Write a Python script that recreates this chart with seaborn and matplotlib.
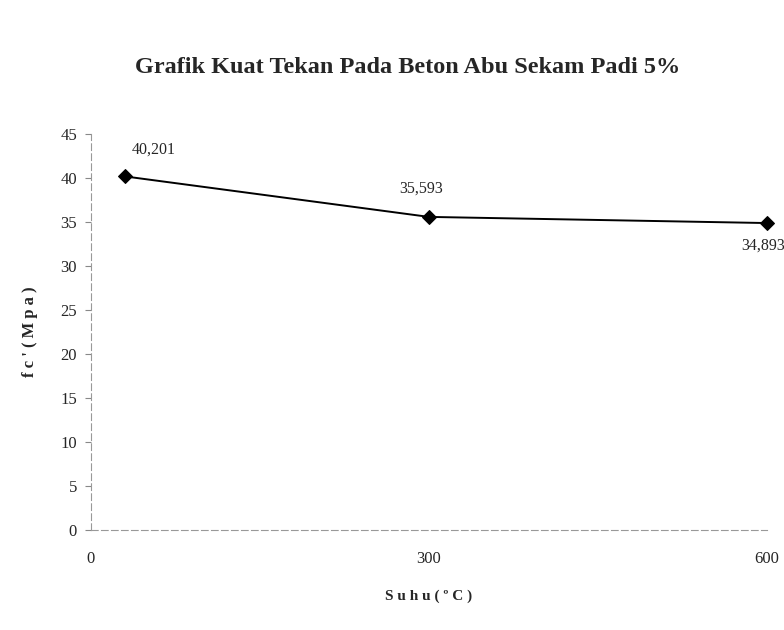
import pandas as pd
import matplotlib
matplotlib.use('Agg')
import matplotlib.pyplot as plt
import seaborn as sns

# Data kuat tekan beton abu sekam padi 5%
suhu = [30, 300, 600]
kuat_tekan = [40.201, 35.593, 34.893]
label_nilai = ['40,201', '35,593', '34,893']
y_ticks = [0, 5, 10, 15, 20, 25, 30, 35, 40, 45]
x_ticks = [0, 300, 600]

data = pd.DataFrame({'Suhu': suhu, 'fc': kuat_tekan})

sns.set_style('white')
plt.rcParams['font.family'] = ['Liberation Serif', 'DejaVu Serif']

fig = plt.figure(figsize=(7.84, 6.3), dpi=100)
ax = fig.add_axes([0.116, 0.159, 0.862, 0.628])

sns.lineplot(x='Suhu', y='fc', data=data, ax=ax, color='black', linewidth=1.4,
             marker='D', markersize=7, markeredgecolor='black', markerfacecolor='black',
             clip_on=False)

# Label nilai pada tiap titik
offsets = [(29, 27), (-8, 28), (-4, -23)]
for xv, yv, txt, (dx, dy) in zip(suhu, kuat_tekan, label_nilai, offsets):
    ax.annotate(txt, (xv, yv), xytext=(dx, dy), textcoords='offset pixels',
                ha='center', va='center', fontsize=11.5, annotation_clip=False)

ax.set_xlim(0, 600)
ax.set_ylim(0, 45)
ax.set_xticks(x_ticks)
ax.set_yticks(y_ticks)
ax.tick_params(axis='y', which='major', left=True, length=4, width=0.8,
               color='#888888', labelsize=12, pad=6)
ax.tick_params(axis='x', which='major', bottom=False, labelsize=12, pad=12)

for s in ['top', 'right']:
    ax.spines[s].set_visible(False)
for s in ['left', 'bottom']:
    ax.spines[s].set_color('#999999')
    ax.spines[s].set_linewidth(0.8)
    ax.spines[s].set_linestyle((0, (6, 3)))

ax.set_xlabel('S u h u ( º C )', fontsize=11, fontweight='bold', labelpad=16)
ax.set_ylabel("f c ' ( M p a )", fontsize=12, fontweight='bold', labelpad=16)

fig.text(0.52, 0.893, 'Grafik Kuat Tekan Pada Beton Abu Sekam Padi 5%',
         ha='center', va='center', fontsize=17.5, fontweight='bold')

fig.savefig('out.png', dpi=100)
